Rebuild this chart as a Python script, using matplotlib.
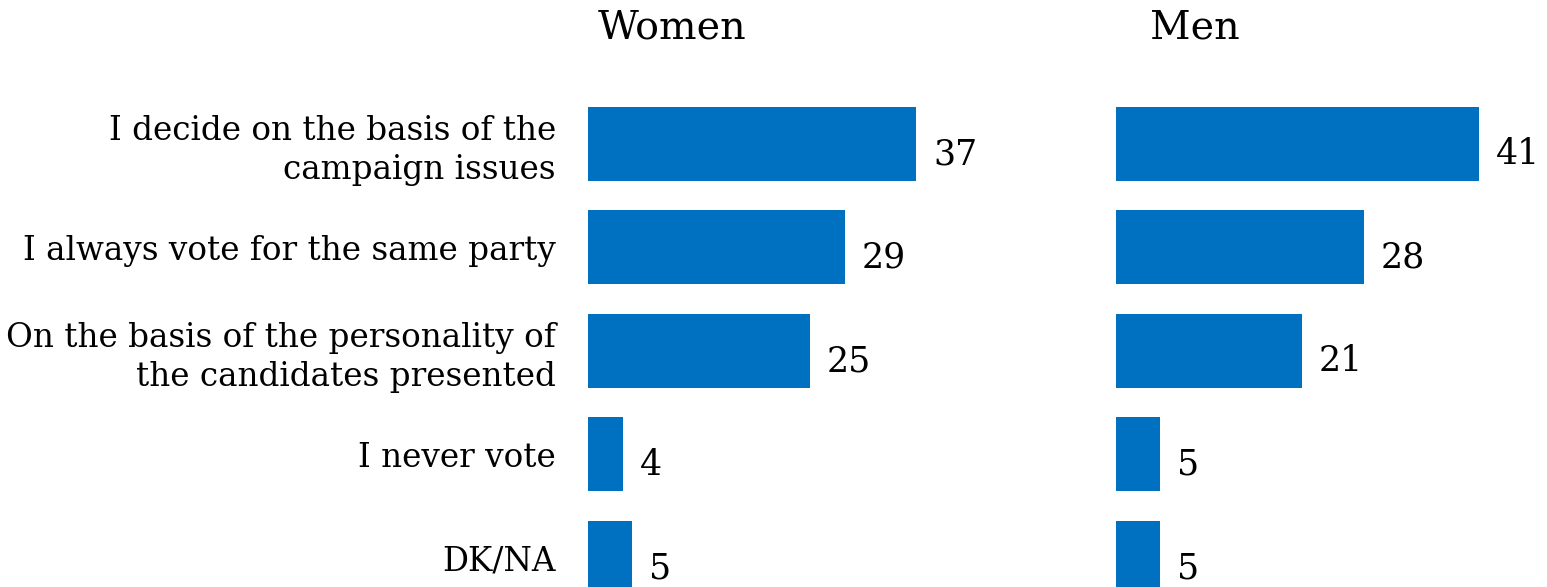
import matplotlib

matplotlib.use("Agg")

import matplotlib.pyplot as plt

categories = [
    "I decide on the basis of the\ncampaign issues",
    "I always vote for the same party",
    "On the basis of the personality of\nthe candidates presented",
    "I never vote",
    "DK/NA",
]
women_values = [37, 29, 25, 4, 5]
men_values = [41, 28, 21, 5, 5]

BAR_COLOR = "#0070C0"
FONT = ["DejaVu Serif"]

fig = plt.figure(figsize=(15.47, 5.87), dpi=100)
ax_w = fig.add_axes([0.380, 0.0, 0.258, 0.843])
ax_m = fig.add_axes([0.7214, 0.0, 0.275, 0.843])

positions = list(range(len(categories)))

for ax, values, xmax in [(ax_w, women_values, 45), (ax_m, men_values, 48)]:
    ax.barh(positions, values, height=0.715, color=BAR_COLOR)
    for pos, val in zip(positions, values):
        ax.text(val + 1.9, pos + 0.1, str(val), va="center", ha="left",
                fontsize=25, family=FONT, color="black")
    ax.set_xlim(0, xmax)
    ax.set_ylim(4.28, -0.5)
    ax.set_xticks([])
    for spine in ax.spines.values():
        spine.set_visible(False)

ax_w.set_yticks(positions)
ax_w.set_yticklabels(categories, fontsize=23.5, family=FONT, linespacing=1.28)
ax_w.tick_params(axis="y", length=0, pad=23)
ax_m.set_yticks([])

fig.text(672 / 1547, 1 - 28 / 587, "Women", ha="center", va="center",
         fontsize=28.5, family=FONT)
fig.text(1195 / 1547, 1 - 28 / 587, "Men", ha="center", va="center",
         fontsize=28.5, family=FONT)

fig.savefig("out.png", dpi=100)
